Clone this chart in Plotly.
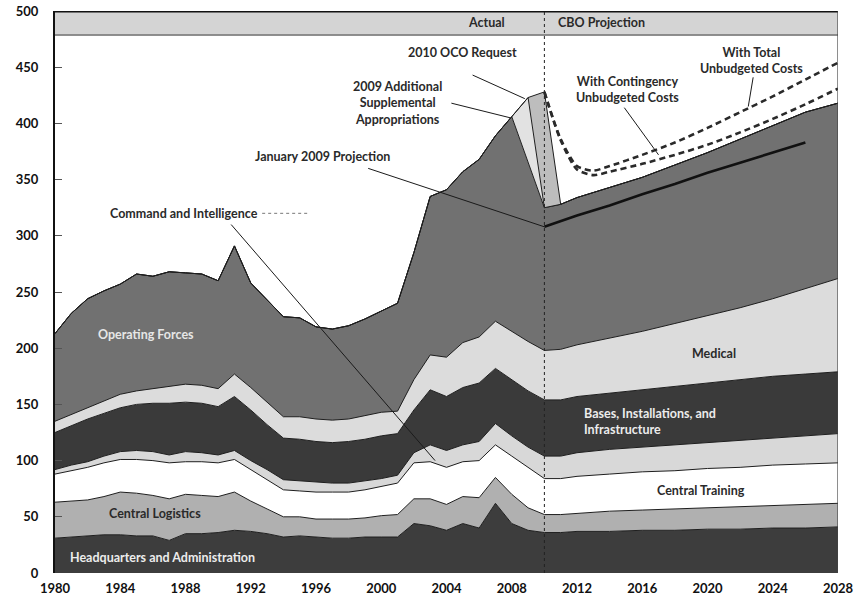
import plotly.graph_objects as go

# x positions: yearly through 2012, then every other year (CBO projection)
years = list(range(1980, 2013)) + list(range(2014, 2029, 2))

# spending by category, billions of 2009 dollars
hq_admin = [31, 32, 33, 34, 34, 33, 33, 29, 35, 35, 36, 38, 37, 35, 32, 33, 32, 31, 31, 32,
            32, 32, 44, 42, 38, 44, 40, 62, 44, 38, 36, 36, 37, 37, 38, 38, 39, 39, 40, 40, 41]
central_logistics = [32, 32, 32, 34, 38, 38, 36, 37, 35, 34, 32, 34, 27, 22, 18, 17, 16, 17, 17, 17,
                     19, 20, 22, 24, 23, 24, 27, 23, 26, 20, 16, 16, 16, 18, 18, 19, 19, 20, 20, 21, 21]
central_training = [25, 27, 29, 30, 29, 30, 31, 32, 29, 30, 30, 29, 28, 26, 24, 23, 24, 24, 24, 25,
                    26, 28, 32, 33, 33, 31, 33, 29, 34, 36, 32, 32, 33, 33, 34, 34, 35, 35, 36, 36, 36]
command_intel = [4, 5, 5, 6, 7, 8, 8, 7, 9, 8, 7, 8, 8, 9, 9, 9, 9, 8, 8, 8,
                 7, 7, 9, 15, 15, 15, 17, 19, 18, 18, 20, 20, 21, 22, 22, 23, 23, 24, 24, 25, 26]
bases = [33, 35, 38, 38, 39, 41, 43, 46, 44, 44, 43, 48, 45, 40, 37, 37, 36, 36, 37, 37,
         38, 37, 38, 49, 48, 51, 52, 49, 50, 50, 50, 50, 50, 50, 51, 52, 53, 54, 55, 55, 55]
medical = [10, 10, 10, 11, 12, 12, 13, 15, 16, 16, 16, 20, 20, 20, 19, 20, 20, 20, 20, 21,
           21, 20, 27, 31, 35, 40, 41, 42, 43, 44, 44, 45, 46, 49, 52, 56, 60, 64, 69, 76, 83]
operating_forces = [78, 90, 97, 98, 98, 104, 100, 102, 99, 99, 96, 114, 93, 91, 89, 88, 82, 81, 83, 86,
                    90, 96, 113, 141, 149, 152, 158, 165, 191, 160, 127, 129, 131, 134, 137, 141, 145, 150, 154, 157, 156]
supplemental_2009 = [0] * 29 + [57] + [0] * 11
oco_2010 = [0] * 30 + [103] + [0] * 10

jan09_years = [2010, 2012, 2014, 2016, 2018, 2020, 2022, 2024, 2026]
jan09_projection = [308, 318, 327, 337, 346, 356, 365, 374, 383]

unbudgeted_years = [2010, 2011, 2012, 2013, 2014, 2016, 2018, 2020, 2022, 2024, 2026, 2028]
with_total = [428, 386, 362, 358, 362, 372, 383, 396, 410, 424, 439, 454]
with_contingency = [428, 385, 359, 354, 357, 364, 372, 381, 392, 404, 417, 431]

layers = [
    ("Headquarters and Administration", hq_admin, "#3d3d3d"),
    ("Central Logistics", central_logistics, "#b0b0b0"),
    ("Central Training", central_training, "#ffffff"),
    ("Command and Intelligence", command_intel, "#d8d8d8"),
    ("Bases, Installations, and Infrastructure", bases, "#3a3a3a"),
    ("Medical", medical, "#dcdcdc"),
    ("Operating Forces", operating_forces, "#717171"),
    ("2009 Additional Supplemental Appropriations", supplemental_2009, "#e2e2e2"),
    ("2010 OCO Request", oco_2010, "#bdbdbd"),
]

FONT = "Lato"

fig = go.Figure()

for name, values, color in layers:
    fig.add_trace(
        go.Scatter(
            x=years,
            y=values,
            name=name,
            mode="lines",
            stackgroup="dod",
            fillcolor=color,
            line={"color": "#1e1e1e", "width": 1},
        )
    )

fig.add_trace(
    go.Scatter(
        x=jan09_years,
        y=jan09_projection,
        mode="lines",
        name="January 2009 Projection",
        line={"color": "#111111", "width": 2.6},
    )
)

for name, values in [("With Total Unbudgeted Costs", with_total),
                     ("With Contingency Unbudgeted Costs", with_contingency)]:
    fig.add_trace(
        go.Scatter(
            x=unbudgeted_years,
            y=values,
            mode="lines",
            name=name,
            line={"color": "#2a2a2a", "width": 2.6, "dash": "6px,4px", "shape": "spline", "smoothing": 0.7},
        )
    )

shapes = [
    # header band
    {"type": "rect", "xref": "x", "yref": "y", "x0": 1980, "x1": 2028, "y0": 478.6, "y1": 500,
     "fillcolor": "#d4d4d4", "line": {"width": 0}, "layer": "above"},
    {"type": "line", "xref": "x", "yref": "y", "x0": 1980, "x1": 2028, "y0": 478.6, "y1": 478.6,
     "line": {"color": "#333333", "width": 1}},
    {"type": "line", "xref": "x", "yref": "y", "x0": 1980, "x1": 2028, "y0": 500, "y1": 500,
     "line": {"color": "#111111", "width": 3}},
    {"type": "line", "xref": "x", "yref": "y", "x0": 2028, "x1": 2028, "y0": 0, "y1": 500,
     "line": {"color": "#444444", "width": 1.2}},
    # actual / projection divider
    {"type": "line", "xref": "x", "yref": "y", "x0": 2010, "x1": 2010, "y0": 0, "y1": 500,
     "line": {"color": "#222222", "width": 1, "dash": "dot"}},
    # dotted leader after "Command and Intelligence"
    {"type": "line", "xref": "x", "yref": "y", "x0": 1992.7, "x1": 1995.6, "y0": 320, "y1": 320,
     "line": {"color": "#777777", "width": 1, "dash": "dot"}},
]

pointers = [
    (1990.8, 310, 2003.3, 100),
    (1999.2, 360, 2010.0, 308),
    (2004.3, 418, 2007.9, 405),
    (2005.6, 443, 2008.8, 422),
    (2014.9, 414, 2017.0, 372),
    (2022.8, 441, 2022.5, 415),
]
for x0, y0, x1, y1 in pointers:
    shapes.append({"type": "line", "xref": "x", "yref": "y", "x0": x0, "y0": y0, "x1": x1, "y1": y1,
                   "line": {"color": "#1a1a1a", "width": 1}})

labels = [
    ("Command and Intelligence", 1987.9, 320, "center", "#2a2a2a"),
    ("January 2009 Projection", 1996.4, 371, "center", "#2a2a2a"),
    ("2009 Additional<br>Supplemental<br>Appropriations", 2001.0, 418, "center", "#2a2a2a"),
    ("2010 OCO Request", 2005.0, 463, "center", "#2a2a2a"),
    ("With Contingency<br>Unbudgeted Costs", 2015.1, 430, "center", "#2a2a2a"),
    ("With Total<br>Unbudgeted Costs", 2022.7, 456, "center", "#2a2a2a"),
    ("Operating Forces", 1985.6, 212, "center", "#e6e6e6"),
    ("Central Logistics", 1986.1, 53, "center", "#2a2a2a"),
    ("Headquarters and Administration", 1986.6, 14, "center", "#ececec"),
    ("Medical", 2020.4, 195, "center", "#2a2a2a"),
    ("Bases, Installations, and<br>Infrastructure", 2012.3, 135, "left", "#ececec"),
    ("Central Training", 2019.6, 73, "center", "#2a2a2a"),
    ("Actual", 2007.7, 489.5, "right", "#2a2a2a"),
    ("CBO Projection", 2010.7, 489.5, "left", "#2a2a2a"),
]
annotations = [
    {"text": text, "x": x, "y": y, "xref": "x", "yref": "y", "showarrow": False,
     "xanchor": anchor, "align": anchor, "yanchor": "middle",
     "font": {"family": FONT, "size": 12.5, "color": color, "weight": "bold"}}
    for text, x, y, anchor, color in labels
]

fig.update_layout(
    width=855,
    height=606,
    margin={"l": 55, "r": 17, "t": 11, "b": 33},
    plot_bgcolor="#ffffff",
    paper_bgcolor="#ffffff",
    showlegend=False,
    shapes=shapes,
    annotations=annotations,
    xaxis={
        "range": [1980, 2028],
        "tickvals": list(range(1980, 2029, 4)),
        "showgrid": False,
        "zeroline": False,
        "showline": False,
        "ticks": "",
        "automargin": False,
        "ticklabelstandoff": 6,
        "ticklabeloverflow": "allow",
        "tickfont": {"family": FONT, "size": 13, "color": "#111111", "weight": "bold"},
    },
    yaxis={
        "range": [0, 500],
        "tickvals": list(range(0, 501, 50)),
        "showgrid": False,
        "zeroline": False,
        "showline": True,
        "linecolor": "#111111",
        "linewidth": 2,
        "ticks": "inside",
        "ticklen": 7,
        "tickcolor": "#555555",
        "automargin": False,
        "ticklabelstandoff": 12,
        "ticklabeloverflow": "allow",
        "tickfont": {"family": FONT, "size": 13, "color": "#111111", "weight": "bold"},
    },
)

# drop the browser's default 8px body margin so the figure fills the window
fig.write_html(
    "out.html",
    config={"displayModeBar": False},
    post_script="document.body.style.margin = '0';",
)
